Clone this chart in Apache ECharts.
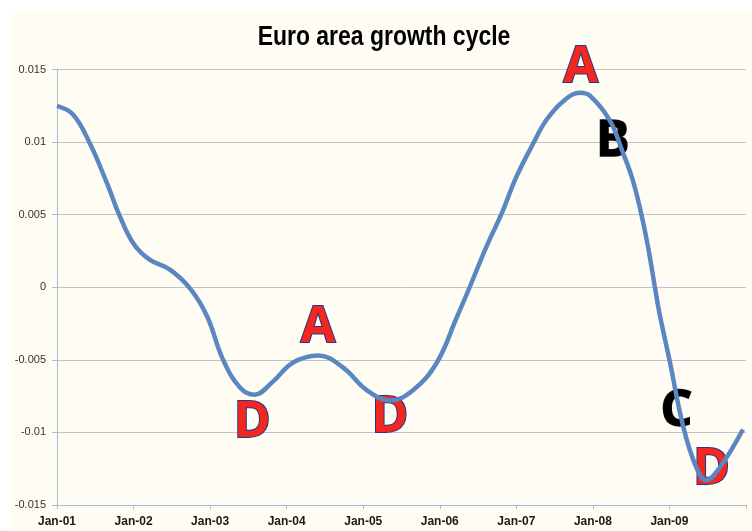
<!DOCTYPE html>
<html>
<head>
<meta charset="utf-8">
<script src="https://cdn.jsdelivr.net/npm/echarts@6/dist/echarts.min.js"></script>
<style>
  html, body { margin: 0; padding: 0; background: #ffffff; }
  #chart { position: absolute; left: 10px; top: 10px; width: 742px; height: 521px; }
</style>
</head>
<body>
<div id="chart"></div>
<script>
// curve (x in years, value = cycle)
const years = [2001.00, 2001.21, 2001.43, 2001.65, 2001.82, 2002.00, 2002.21, 2002.48, 2002.74, 2002.96,
  2003.17, 2003.39, 2003.58, 2003.82, 2004.08, 2004.41, 2004.73, 2005.05, 2005.35, 2005.65,
  2005.96, 2006.22, 2006.39, 2006.61, 2006.81, 2007.00, 2007.22, 2007.39, 2007.61, 2007.83,
  2007.96, 2008.22, 2008.39, 2008.52, 2008.63, 2008.72, 2008.81, 2008.87, 2009.00, 2009.18,
  2009.35, 2009.48, 2009.66, 2009.96];
const cycle = [0.0125, 0.0119, 0.0099, 0.0072, 0.0049, 0.0030, 0.0019, 0.0012, -0.0001, -0.0020,
  -0.0050, -0.0069, -0.0074, -0.0065, -0.0052, -0.0047, -0.0055, -0.0071, -0.0078, -0.0071,
  -0.0052, -0.0021, 0.0000, 0.0028, 0.0051, 0.0076, 0.0099, 0.0115, 0.0128, 0.0134,
  0.0132, 0.0115, 0.0093, 0.0074, 0.0051, 0.0028, 0.0000, -0.0018, -0.0050, -0.0096,
  -0.0124, -0.0133, -0.0124, -0.0098];

// phase letters
const letters = ['A', 'B', 'A', 'D', 'D', 'C', 'D'];
const letterX = [2007.84, 2008.26, 2004.41, 2003.55, 2005.35, 2009.09, 2009.55];
const letterY = [0.0151, 0.0100, -0.0028, -0.0093, -0.0090, -0.0086, -0.0126];

const yTicks = { min: -0.015, max: 0.015, step: 0.005 };

const chart = echarts.init(document.getElementById('chart'));

const lineData = years.map((x, i) => [x, cycle[i]]);
const letterData = letters.map((t, i) => {
  const red = t === 'A' || t === 'D';
  return {
    value: [letterX[i], letterY[i]],
    label: {
      formatter: t,
      color: red ? '#F2281E' : '#000000',
      textBorderColor: red ? '#22388a' : '#10101e',
      textBorderWidth: red ? 2 : 1.5
    }
  };
});

chart.setOption({
  backgroundColor: '#FFFCF3',
  animation: false,
  // narrow bold title: no narrow font installed, so squeeze a bold sans
  graphic: [{
    type: 'text',
    x: 374,
    y: 13,
    scaleX: 0.82,
    style: {
      text: 'Euro area growth cycle',
      textAlign: 'center',
      textVerticalAlign: 'top',
      font: 'bold 28px "Liberation Sans", Arial, sans-serif',
      fill: '#000'
    }
  }],
  grid: { left: 47, right: 6, top: 59.5, bottom: 26 },
  xAxis: {
    type: 'value',
    min: 2001,
    max: 2010,
    interval: 1,
    axisLine: { onZero: false, lineStyle: { color: '#A9BCD6', width: 1 } },
    axisTick: { show: true, length: 4, lineStyle: { color: '#A9BCD6' } },
    splitLine: { show: false },
    axisLabel: {
      margin: 11,
      fontFamily: 'Liberation Sans, Arial, sans-serif',
      fontSize: 12,
      fontWeight: 'bold',
      color: '#1a1a1a',
      formatter: v => v >= 2010 ? '' : 'Jan-' + String(Math.round(v)).slice(2)
    }
  },
  yAxis: {
    type: 'value',
    min: yTicks.min,
    max: yTicks.max,
    interval: yTicks.step,
    axisLine: { show: true, lineStyle: { color: '#A9BCD6', width: 1 } },
    axisTick: { show: true, length: 5, lineStyle: { color: '#A9BCD6' } },
    splitLine: { show: true, lineStyle: { color: '#C3C2CC', width: 1 } },
    axisLabel: {
      margin: 11,
      fontFamily: 'Liberation Sans, Arial, sans-serif',
      fontSize: 11,
      color: '#333',
      formatter: v => String(+v.toFixed(3))
    }
  },
  series: [
    {
      type: 'scatter',
      data: letterData,
      symbolSize: 1,
      clip: false,
      itemStyle: { color: 'rgba(0,0,0,0)' },
      emphasis: { disabled: true },
      z: 1,
      label: {
        show: true,
        opacity: 1,
        position: 'inside',
        fontFamily: '"Open Sans", "Noto Sans", sans-serif',
        fontWeight: 'bold',
        fontSize: 50
      }
    },
    {
      type: 'line',
      data: lineData,
      smooth: 0.4,
      showSymbol: false,
      z: 3,
      lineStyle: { color: '#5A86C2', width: 4.5 }
    }
  ]
});
</script>
</body>
</html>
